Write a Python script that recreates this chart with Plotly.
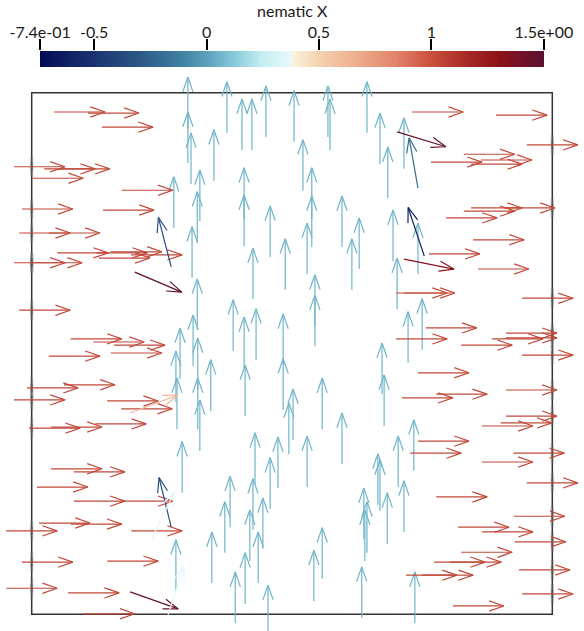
import numpy as np
import plotly.graph_objects as go

# ---------------- colour map: nematic X value -> colour ----------------
cmap_values = [-0.74, -0.50, -0.30, -0.12, 0.00, 0.134, 0.25, 0.378, 0.382,
               0.50, 0.70, 0.846, 1.00, 1.15, 1.30, 1.50]
cmap_colors = ["#030a55", "#1a3370", "#2c5785", "#3e7e9f", "#5aa0bb", "#8ccedd",
               "#c8eef2", "#e8fafa", "#fdf3dc", "#f4d2b0", "#eca685", "#e2826a",
               "#c9503d", "#a82a28", "#8c1318", "#5a1033"]
cbar_min, cbar_max = -0.74, 1.5
cbar_tickvals = [-0.74, -0.5, 0, 0.5, 1, 1.5]
cbar_ticktext = ["-7.4e-01", "-0.5", "0", "0.5", "1", "1.5e+00"]
cbar_title = "nematic X"

# ---------------- glyphs (tail position in domain units) ----------------
# arrows pointing along +x
horiz_x = [0.043, 0.108, 0.135, -0.034, 0.024, 0.052, 0.001, 0.173, -0.019, 0.137,
           -0.024, 0.033, 0.049, 0.124, 0.152, 0.191, 0.129, -0.034, -0.001,
           0.731, 0.892, 0.951, 0.830, 0.863, 0.767, 0.844, 0.844, 0.907, 0.830,
           0.796, 0.848, 0.763, 0.857, 0.700, 0.715, 0.942,
           -0.024, 0.075, 0.118, 0.158, 0.152, 0.033, -0.009, 0.062, -0.034, 0.145,
           0.172, -0.005, 0.037, 0.122,
           0.757, 0.911, 0.911, 0.700, 0.884, 0.825, 0.942, 0.742, 0.911, 0.777,
           0.711, 0.911, 0.901, 0.865, 0.742, 0.727, 0.925,
           0.037, 0.081, 0.010, 0.081, 0.173, 0.014, 0.075, -0.049, 0.191, -0.019,
           0.145, -0.049, 0.070, 0.100,
           0.865, 0.951, 0.777, 0.926, 0.819, 0.865, 0.928, 0.825, 0.773, 0.804,
           0.936, 0.719, 0.750, 0.942, 0.809]
horiz_y = [0.963, 0.961, 0.934, 0.858, 0.854, 0.854, 0.836, 0.813, 0.777, 0.775,
           0.731, 0.731, 0.693, 0.693, 0.695, 0.689, 0.683, 0.674, 0.674,
           0.963, 0.957, 0.900, 0.882, 0.871, 0.867, 0.863, 0.779, 0.779, 0.773,
           0.760, 0.718, 0.691, 0.662, 0.616, 0.616, 0.606,
           0.583, 0.528, 0.522, 0.516, 0.501, 0.495, 0.434, 0.440, 0.411, 0.409,
           0.394, 0.357, 0.359, 0.365,
           0.549, 0.539, 0.530, 0.528, 0.528, 0.516, 0.497, 0.463, 0.430, 0.422,
           0.415, 0.380, 0.367, 0.361, 0.332, 0.309, 0.309,
           0.279, 0.273, 0.244, 0.217, 0.217, 0.175, 0.173, 0.160, 0.160, 0.100,
           0.102, 0.050, 0.041, 0.001,
           0.292, 0.252, 0.225, 0.188, 0.167, 0.158, 0.139, 0.119, 0.100, 0.100,
           0.085, 0.075, 0.075, 0.039, 0.016]
horiz_angle = 0.0
horiz_value = 1.03

# arrows pointing along +y
vert_x = [0.300, 0.300, 0.306, 0.375, 0.404, 0.423, 0.450, 0.504, 0.350, 0.323,
          0.273, 0.408, 0.408, 0.318, 0.458, 0.308, 0.425, 0.487, 0.318,
          0.569, 0.573, 0.644, 0.669, 0.715, 0.521, 0.684, 0.538, 0.538, 0.529,
          0.596, 0.629, 0.615, 0.694, 0.702, 0.544, 0.742,
          0.387, 0.408, 0.431, 0.483, 0.483, 0.310, 0.285, 0.319, 0.277, 0.344,
          0.410, 0.279, 0.319, 0.323, 0.502, 0.494, 0.289, 0.429, 0.473, 0.458,
          0.544, 0.723, 0.750, 0.673, 0.677, 0.558, 0.596, 0.734, 0.529, 0.704, 0.665,
          0.277, 0.346, 0.381, 0.371, 0.425, 0.419, 0.444, 0.435, 0.410, 0.391, 0.454,
          0.669, 0.638, 0.644, 0.640, 0.683, 0.715, 0.558, 0.542, 0.634, 0.736]
vert_y = [0.932, 0.865, 0.825, 0.923, 0.890, 0.890, 0.915, 0.906, 0.831, 0.754,
          0.741, 0.758, 0.706, 0.712, 0.685, 0.645, 0.604, 0.622, 0.545,
          0.915, 0.890, 0.923, 0.863, 0.854, 0.812, 0.798, 0.758, 0.704, 0.652,
          0.704, 0.662, 0.622, 0.677, 0.585, 0.553, 0.652,
          0.505, 0.472, 0.488, 0.478, 0.392, 0.476, 0.451, 0.432, 0.407, 0.390,
          0.380, 0.355, 0.355, 0.313, 0.334, 0.307, 0.233, 0.250, 0.242, 0.202,
          0.514, 0.482, 0.507, 0.422, 0.361, 0.355, 0.288, 0.275, 0.244, 0.244, 0.210,
          0.045, 0.060, 0.167, 0.118, 0.162, 0.102, 0.125, 0.060, 0.020, -0.017, -0.042,
          0.198, 0.144, 0.118, 0.102, 0.135, 0.158, 0.068, 0.025, -0.007, -0.017]
vert_angle = 90.0
vert_value = 0.06

# tilted arrows near the defects
diag_x = [0.198, 0.268, 0.742, 0.754, 0.702, 0.715, 0.189, 0.189, 0.268, 0.231, 0.262]
diag_y = [0.656, 0.666, 0.817, 0.687, 0.925, 0.681, 0.386, 0.043, 0.167, 0.146, -0.001]
diag_angle = [-23, 104.6, 100, 108.4, -17, -11.3, 20.6, -19.5, 103.8, 64, 72]
diag_value = [1.48, -0.35, -0.2, -0.6, 1.45, 1.32, 0.62, 1.45, -0.35, 0.36, 0.37]

glyph_length = 0.098
head_length = 0.29   # fraction of glyph length
head_half_width = 0.1

# ---------------- helpers ----------------
def hex_rgb(h):
    h = h.lstrip("#")
    return [int(h[i:i + 2], 16) for i in (0, 2, 4)]

cmap_rgb = np.array([hex_rgb(c) for c in cmap_colors], dtype=float)

def value_color(v):
    r, g, b = (np.interp(v, cmap_values, cmap_rgb[:, k]) for k in range(3))
    return "rgb(%d,%d,%d)" % (round(r), round(g), round(b))

groups = {}

def add_arrow(x0, y0, ang, val):
    a = np.deg2rad(ang)
    c, s = np.cos(a), np.sin(a)
    L = glyph_length
    xt, yt = x0 + L * c, y0 + L * s
    bx, by = xt - head_length * L * c, yt - head_length * L * s
    wx, wy = -s * head_half_width * L, c * head_half_width * L
    col = value_color(val)
    g = groups.setdefault(col, ([], []))
    g[0].extend([x0, xt, None, bx + wx, xt, bx - wx, None])
    g[1].extend([y0, yt, None, by + wy, yt, by - wy, None])

for x0, y0 in zip(vert_x, vert_y):
    add_arrow(x0, y0, vert_angle, vert_value)
for x0, y0 in zip(horiz_x, horiz_y):
    add_arrow(x0, y0, horiz_angle, horiz_value)
for x0, y0, a, v in zip(diag_x, diag_y, diag_angle, diag_value):
    add_arrow(x0, y0, a, v)

fig = go.Figure()

# grey edge marks where glyphs pierce the domain boundary
mx_o, my_o, mx_i, my_i = [], [], [], []
for x0, y0 in zip(horiz_x, horiz_y):
    for edge in (0.0, 1.0):
        if x0 < edge < x0 + glyph_length:
            mx_o += [edge, edge, None]; my_o += [y0 - 0.019, y0 + 0.019, None]
            mx_i += [edge, edge, None]; my_i += [y0 - 0.008, y0 + 0.008, None]
fig.add_trace(go.Scatter(x=mx_o, y=my_o, mode="lines", hoverinfo="skip",
                         line=dict(color="rgba(130,130,130,0.35)", width=3.5),
                         showlegend=False))
fig.add_trace(go.Scatter(x=mx_i, y=my_i, mode="lines", hoverinfo="skip",
                         line=dict(color="rgba(90,90,90,0.5)", width=2.5),
                         showlegend=False))

for col, (gx, gy) in groups.items():
    fig.add_trace(go.Scatter(x=gx, y=gy, mode="lines", hoverinfo="skip",
                             line=dict(color=col, width=1.2), showlegend=False))

# colour bar drawn as a heatmap strip
span = cbar_max - cbar_min
cscale = [[(v - cbar_min) / span, c] for v, c in zip(cmap_values, cmap_colors)]
strip = np.linspace(cbar_min, cbar_max, 400)
fig.add_trace(go.Heatmap(x=strip, y=[0], z=[strip], colorscale=cscale,
                         zmin=cbar_min, zmax=cbar_max, showscale=False,
                         xaxis="x2", yaxis="y2", hoverinfo="skip"))

W, H = 584, 631
FONT = "Lato, Open Sans, sans-serif"
fig.update_layout(
    width=W, height=H, margin=dict(l=0, r=0, t=0, b=0, autoexpand=False),
    paper_bgcolor="white", plot_bgcolor="white",
    font=dict(family=FONT, color="#1a1a1a"),
    xaxis=dict(domain=[0, 1], range=[-0.0609, 1.0609], visible=False,
               fixedrange=True, automargin=False),
    yaxis=dict(domain=[0, 1], range=[-0.0320, 1.1777], visible=False,
               fixedrange=True, automargin=False),
    xaxis2=dict(domain=[40 / W, 544 / W], range=[cbar_min - 0.0005, cbar_max + 0.0005],
                anchor="y2", side="top", ticks="outside", ticklen=11, tickwidth=2,
                tickcolor="black", tickvals=cbar_tickvals, ticktext=cbar_ticktext,
                ticklabelstandoff=-5,
                tickfont=dict(size=16, family=FONT, color="#1a1a1a"),
                showgrid=False, zeroline=False, showline=False, fixedrange=True,
                automargin=False),
    yaxis2=dict(domain=[1 - 67 / H, 1 - 51 / H], range=[-0.5, 0.5], anchor="x2",
                visible=False, fixedrange=True, automargin=False),
    shapes=[dict(type="rect", xref="x", yref="y", x0=0, x1=1, y0=0, y1=1,
                 line=dict(color="#333333", width=1.5), layer="below")],
    annotations=[dict(text=cbar_title, xref="paper", yref="paper",
                      x=292 / W, y=1 - 10.5 / H, xanchor="center", yanchor="middle",
                      showarrow=False,
                      font=dict(size=16, family=FONT, color="#1a1a1a"))],
)

fig.write_html("out.html", config=dict(displayModeBar=False))
